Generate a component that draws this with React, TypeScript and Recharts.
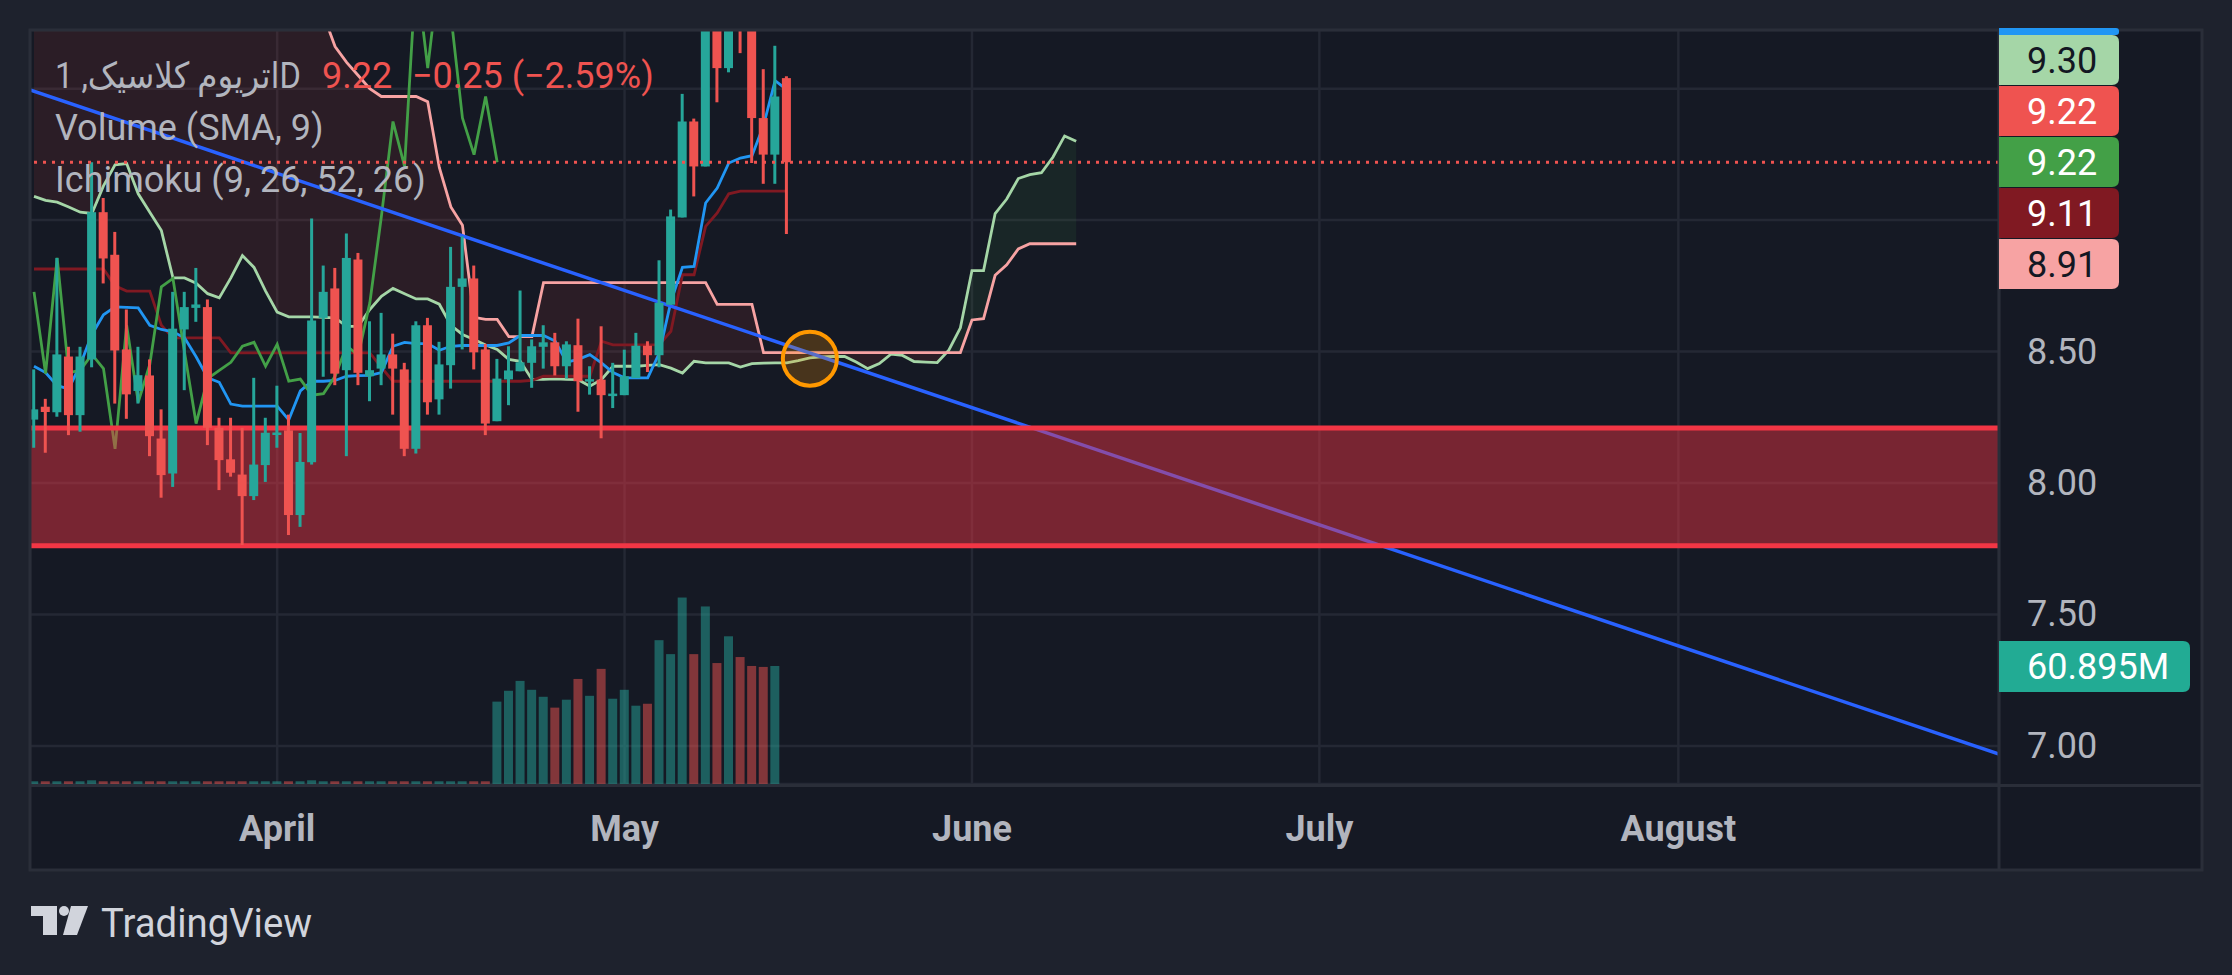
import React from 'react';
import {
  ComposedChart, Bar, Line, Area, XAxis, YAxis, CartesianGrid,
  ReferenceArea, ReferenceLine, ReferenceDot,
} from 'recharts';

const W = 2232;
const H = 975;
const FONT = 'Roboto, "DejaVu Sans", sans-serif';
const UP = '#26a69a';
const DOWN = '#ef5350';

// x is a session number, 0 = 1 March; first candle is session 10.
// the feed skips one day in May, so June starts at session 91
const firstDay = 10;
const dayDomain = [9.655, 179.69];
const priceDomain = [6.855, 9.723];
const monthTicks = [31, 61, 91, 121, 152];
const monthNames = ['April', 'May', 'June', 'July', 'August'];
const priceTicks = [7, 7.5, 8, 8.5, 9, 9.5];

const opens = [
  8.241, 8.29, 8.269, 8.481, 8.258, 8.47, 9.03, 8.868, 8.508, 8.35,
  8.409, 8.169, 8.036, 8.584, 8.666, 8.669, 8.21, 8.09, 8.032, 7.95,
  8.068, 8.188, 8.2, 7.878, 8.079, 8.628, 8.74, 8.429, 8.85, 8.406,
  8.435, 8.489, 8.432, 8.13, 8.6, 8.318, 8.448, 8.746, 8.778, 8.508,
  8.235, 8.394, 8.425, 8.457, 8.518, 8.535, 8.444, 8.524, 8.391, 8.393,
  8.335, 8.334, 8.399, 8.522, 8.486, 8.678, 9.01, 9.375, 9.204, 9.9,
  9.578, 9.85, 9.85, 9.388, 9.249, 9.54,
];
const highs = [
  8.432, 8.32, 8.856, 8.518, 8.518, 9.22, 9.084, 8.955, 8.66, 8.518,
  8.47, 8.28, 8.727, 8.727, 8.818, 8.698, 8.248, 8.248, 8.21, 8.4,
  8.248, 8.37, 8.26, 8.19, 9.006, 8.827, 8.818, 8.949, 8.875, 8.615,
  8.647, 8.568, 8.457, 8.615, 8.628, 8.537, 8.898, 8.938, 8.827, 8.529,
  8.472, 8.52, 8.732, 8.546, 8.6, 8.571, 8.539, 8.625, 8.444, 8.596,
  8.457, 8.507, 8.571, 8.539, 8.847, 9.04, 9.48, 9.386, 10.05, 10.05,
  10.1, 9.9, 9.9, 9.574, 9.663, 9.547,
];
const lows = [
  8.134, 8.115, 8.252, 8.182, 8.195, 8.44, 8.759, 8.302, 8.244, 8.302,
  8.102, 7.944, 7.985, 8.353, 8.613, 8.144, 7.973, 8.024, 7.764, 7.935,
  8.004, 8.134, 7.802, 7.833, 8.07, 8.404, 8.372, 8.102, 8.372, 8.311,
  8.372, 8.26, 8.102, 8.112, 8.26, 8.26, 8.359, 8.508, 8.432, 8.182,
  8.235, 8.296, 8.425, 8.362, 8.435, 8.409, 8.397, 8.271, 8.336, 8.17,
  8.285, 8.334, 8.4, 8.422, 8.44, 8.678, 9.01, 9.09, 9.204, 9.448,
  9.562, 9.635, 9.217, 9.138, 9.138, 8.947,
];
const closes = [
  8.28, 8.27, 8.489, 8.258, 8.481, 9.03, 8.854, 8.504, 8.337, 8.41,
  8.178, 8.03, 8.587, 8.669, 8.679, 8.21, 8.087, 8.039, 7.95, 8.07,
  8.191, 8.192, 7.878, 8.08, 8.618, 8.727, 8.416, 8.856, 8.419, 8.429,
  8.489, 8.435, 8.13, 8.6, 8.307, 8.451, 8.746, 8.778, 8.497, 8.226,
  8.397, 8.428, 8.459, 8.52, 8.535, 8.444, 8.527, 8.387, 8.395, 8.334,
  8.34, 8.406, 8.522, 8.486, 8.685, 9.014, 9.375, 9.204, 9.95, 9.578,
  9.95, 9.78, 9.388, 9.249, 9.47, 9.22,
];
// millions
const volumes = [
  1.4, 1.4, 1.4, 1.4, 1.4, 1.9, 1.4, 1.4, 1.4, 1.4,
  1.4, 1.4, 1.4, 1.4, 1.4, 1.4, 1.4, 1.4, 1.4, 1.4,
  1.4, 1.4, 1.4, 1.4, 1.9, 1.4, 1.4, 1.4, 1.4, 1.4,
  1.4, 1.4, 1.4, 1.4, 1.4, 1.4, 1.4, 1.4, 1.4, 1.4,
  42.5, 48.1, 53.2, 48.6, 45.0, 39.4, 43.5, 54.2, 45.5, 59.4,
  44.0, 48.6, 40.4, 41.4, 74.2, 67.0, 96.2, 67.0, 91.6, 62.4,
  76.2, 65.5, 60.9, 60.4, 60.895,
];
const tenkan = [
  8.444, 8.42, 8.37, 8.358, 8.45, 8.565, 8.64, 8.67, 8.668, 8.666,
  8.6, 8.584, 8.575, 8.552, 8.48, 8.4, 8.383, 8.3, 8.292, 8.292,
  8.292, 8.292, 8.24, 8.35, 8.387, 8.387, 8.39, 8.406, 8.408, 8.409,
  8.42, 8.52, 8.535, 8.53, 8.53, 8.505, 8.52, 8.523, 8.523, 8.523,
  8.523, 8.533, 8.561, 8.561, 8.561, 8.54, 8.46, 8.47, 8.488, 8.457,
  8.42, 8.4, 8.4, 8.4, 8.494, 8.69, 8.82, 8.824, 9.065, 9.122,
  9.217, 9.236, 9.245, 9.36, 9.53, 9.496,
];
const kijun = [
  8.814, 8.814, 8.814, 8.814, 8.814, 8.814, 8.814, 8.75, 8.73, 8.73,
  8.73, 8.6, 8.552, 8.552, 8.552, 8.552, 8.552, 8.495, 8.495, 8.495,
  8.495, 8.495, 8.495, 8.495, 8.495, 8.495, 8.495, 8.495, 8.495, 8.495,
  8.44, 8.387, 8.387, 8.387, 8.387, 8.387, 8.387, 8.387, 8.387, 8.387,
  8.387, 8.387, 8.387, 8.39, 8.406, 8.406, 8.406, 8.406, 8.406, 8.539,
  8.525, 8.525, 8.525, 8.525, 8.526, 8.577, 8.792, 8.792, 8.976, 9.027,
  9.1, 9.11, 9.11, 9.11, 9.11, 9.11,
];
const chikou = [
  8.727, 8.416, 8.856, 8.419, 8.429, 8.489, 8.435, 8.13, 8.6, 8.307,
  8.451, 8.746, 8.778, 8.497, 8.226, 8.397, 8.428, 8.459, 8.52, 8.535,
  8.444, 8.527, 8.387, 8.395, 8.334, 8.34, 8.406, 8.522, 8.486, 8.685,
  9.014, 9.375, 9.204, 9.95, 9.578, 9.95, 9.78, 9.388, 9.249, 9.47,
  9.22,
];
const spanA = [
  9.09, 9.075, 9.068, 9.05, 9.03, 9.025, 9.13, 9.21, 9.215, 9.1,
  9.03, 8.96, 8.78, 8.78, 8.76, 8.72, 8.704, 8.78, 8.865, 8.82,
  8.73, 8.65, 8.632, 8.632, 8.632, 8.63, 8.628, 8.596, 8.596, 8.66,
  8.71, 8.74, 8.72, 8.7, 8.7, 8.68, 8.6, 8.565, 8.546, 8.525,
  8.508, 8.47, 8.463, 8.394, 8.394, 8.396, 8.394, 8.393, 8.368, 8.393,
  8.444, 8.444, 8.444, 8.447, 8.45, 8.437, 8.418, 8.463, 8.457, 8.457,
  8.457, 8.441, 8.454, 8.456, 8.457, 8.457, 8.465, 8.476, 8.48, 8.481,
  8.481, 8.46, 8.435, 8.454, 8.49, 8.485, 8.462, 8.46, 8.458, 8.505,
  8.59, 8.808, 8.808, 9.025, 9.08, 9.158, 9.173, 9.18, 9.24, 9.32,
  9.3,
];
const spanB = [
  10.3, 10.3, 10.3, 10.3, 10.3, 10.3, 10.3, 10.3, 10.3, 10.3,
  10.3, 10.3, 10.3, 10.3, 10.3, 10.3, 10.3, 10.3, 10.3, 10.3,
  10.3, 10.3, 10.3, 10.1, 9.95, 9.78, 9.66, 9.6, 9.55, 9.5,
  9.47, 9.47, 9.47, 9.47, 9.45, 9.2, 9.05, 8.98, 8.63, 8.622,
  8.622, 8.557, 8.557, 8.557, 8.762, 8.762, 8.762, 8.762, 8.762, 8.762,
  8.762, 8.762, 8.762, 8.762, 8.762, 8.762, 8.762, 8.762, 8.762, 8.679,
  8.679, 8.679, 8.679, 8.496, 8.496, 8.496, 8.496, 8.496, 8.496, 8.496,
  8.496, 8.496, 8.496, 8.496, 8.496, 8.496, 8.496, 8.496, 8.496, 8.496,
  8.496, 8.62, 8.625, 8.79, 8.83, 8.89, 8.91, 8.91, 8.91, 8.91,
  8.91,
];

// drawings
const trendDays = [9.655, 179.69];
const trendPrices = [9.495, 6.969];
const zoneLow = 7.761;
const zoneHigh = 8.209;
const circleDay = 77;
const circlePrice = 8.473;

const rows = spanA.map((a, i) => {
  const b = spanB[i];
  const has = i < closes.length;
  return {
    d: firstDay + i,
    range: has ? [lows[i], highs[i]] : null,
    o: has ? opens[i] : null,
    h: has ? highs[i] : null,
    l: has ? lows[i] : null,
    c: has ? closes[i] : null,
    up: has ? closes[i] >= opens[i] : true,
    vol: i < volumes.length ? volumes[i] : null,
    tenkan: i < tenkan.length ? tenkan[i] : null,
    kijun: i < kijun.length ? kijun[i] : null,
    chikou: i < chikou.length ? chikou[i] : null,
    spanA: a,
    spanB: b,
    redCloud: [a, Math.max(a, b)],
    greenCloud: [b, Math.max(a, b)],
  };
});

const trendRows = trendDays.map((d, i) => ({ d, t: trendPrices[i] }));

const Candle = (props: any) => {
  const { x, y, width, height, payload } = props;
  if (!payload || payload.o == null || !isFinite(y) || !isFinite(height)) return <g />;
  const { o, h, l, c } = payload;
  const col = c >= o ? UP : DOWN;
  const py = (v: number) => y + ((h - v) / (h - l)) * height;
  const cx = x + width / 2;
  const top = py(Math.max(o, c));
  const bot = py(Math.min(o, c));
  return (
    <g>
      <line x1={cx} x2={cx} y1={y} y2={y + height} stroke={col} strokeWidth={3} />
      <rect x={cx - 4.5} y={top} width={9} height={Math.max(bot - top, 2.5)} fill={col} />
    </g>
  );
};

const VolBar = (props: any) => {
  const { x, y, width, height, payload } = props;
  if (!payload || payload.vol == null || !isFinite(y) || !isFinite(height)) return <g />;
  const cx = x + width / 2;
  return (
    <rect x={cx - 4.5} y={y} width={9} height={height}
      fill={payload.up ? UP : DOWN} fillOpacity={0.5} />
  );
};

const TimeTick = (p: any) => {
  const k = monthTicks.indexOf(p.payload.value);
  return (
    <text x={p.x} y={829} textAnchor="middle" dominantBaseline="central"
      fill="#b2b5be" fontSize={36} fontWeight={700} fontFamily={FONT}>
      {monthNames[k]}
    </text>
  );
};

const PriceTick = (p: any) => {
  if (p.payload.value >= 9) return <g />;
  return (
    <text x={2027} y={p.y} dominantBaseline="central"
      fill="#b2b5be" fontSize={36} fontFamily={FONT}>
      {p.payload.value.toFixed(2)}
    </text>
  );
};

const labelPath = (x: number, y: number, w: number, h: number, r: number) =>
  `M${x},${y} H${x + w - r} Q${x + w},${y} ${x + w},${y + r} V${y + h - r} Q${x + w},${y + h} ${x + w - r},${y + h} H${x} Z`;

const axisLabels = [
  { text: spanA[spanA.length - 1].toFixed(2), bg: '#a5d6a7', fg: '#131722' },
  { text: closes[closes.length - 1].toFixed(2), bg: '#ef5350', fg: '#ffffff' },
  { text: chikou[chikou.length - 1].toFixed(2), bg: '#43a047', fg: '#ffffff' },
  { text: kijun[kijun.length - 1].toFixed(2), bg: '#801922', fg: '#ffffff' },
  { text: spanB[spanB.length - 1].toFixed(2), bg: '#f7a3a3', fg: '#131722' },
];

export default function App() {
  return (
    <div style={{ position: 'absolute', left: 0, top: 0, width: W, height: H, background: '#1e222d', overflow: 'hidden' }}>
      <div style={{ position: 'absolute', left: 30, top: 30, width: 2172, height: 840, background: '#151924' }} />
      <div style={{ position: 'absolute', left: 0, top: 0 }}>
        <ComposedChart width={W} height={H} data={rows}
          margin={{ top: 30, right: 30, bottom: 105, left: 30 }}>
          <CartesianGrid stroke="#242834" strokeWidth={2.5} />
          <XAxis dataKey="d" type="number" domain={dayDomain} allowDataOverflow
            ticks={monthTicks} interval={0} height={86} tickLine={false} axisLine={false}
            tick={TimeTick} />
          <XAxis xAxisId="v" dataKey="d" type="number" domain={dayDomain} allowDataOverflow hide />
          <XAxis xAxisId="t" dataKey="d" type="number" domain={dayDomain} allowDataOverflow hide />
          <YAxis orientation="right" type="number" domain={priceDomain} allowDataOverflow
            ticks={priceTicks} interval={0} width={203} tickLine={false} axisLine={false}
            tick={PriceTick} />
          <YAxis yAxisId="vol" type="number" domain={[0, 389]} allowDataOverflow hide />

          <Area dataKey="redCloud" type="linear" stroke="none" fill="#f44336" fillOpacity={0.1}
            isAnimationActive={false} dot={false} activeDot={false} zIndex={100} />
          <Area dataKey="greenCloud" type="linear" stroke="none" fill="#43a047" fillOpacity={0.1}
            isAnimationActive={false} dot={false} activeDot={false} zIndex={100} />

          <Bar xAxisId="v" yAxisId="vol" dataKey="vol" barSize={9} shape={VolBar}
            isAnimationActive={false} zIndex={150} />

          <Line dataKey="spanA" stroke="#a5d6a7" strokeWidth={2.8} dot={false} activeDot={false}
            isAnimationActive={false} zIndex={200} />
          <Line dataKey="spanB" stroke="#f7a3a3" strokeWidth={2.8} dot={false} activeDot={false}
            isAnimationActive={false} zIndex={200} />
          <Line dataKey="kijun" stroke="#801922" strokeWidth={2.8} dot={false} activeDot={false}
            isAnimationActive={false} zIndex={200} />
          <Line dataKey="tenkan" stroke="#2196f3" strokeWidth={2.8} dot={false} activeDot={false}
            isAnimationActive={false} zIndex={200} />
          <Line dataKey="chikou" stroke="#43a047" strokeWidth={2.8} dot={false} activeDot={false}
            isAnimationActive={false} zIndex={200} />

          <Line xAxisId="t" data={trendRows} dataKey="t" stroke="#2962ff" strokeWidth={3.5} dot={false}
            activeDot={false} isAnimationActive={false} zIndex={250} />

          <ReferenceArea y1={zoneLow} y2={zoneHigh} fill="#f23645" fillOpacity={0.45}
            stroke="none" zIndex={300} />
          <ReferenceLine y={zoneHigh} stroke="#f23645" strokeWidth={5} zIndex={310} />
          <ReferenceLine y={zoneLow} stroke="#f23645" strokeWidth={5} zIndex={310} />

          <Bar dataKey="range" barSize={9} shape={Candle} isAnimationActive={false} zIndex={400} />

          <ReferenceLine y={closes[closes.length - 1]} stroke={DOWN} strokeWidth={3}
            strokeDasharray="3 6" zIndex={450} />
          <ReferenceDot x={circleDay} y={circlePrice} r={27} fill="#ff9800" fillOpacity={0.22}
            stroke="#ff9800" strokeWidth={4} zIndex={500} />
        </ComposedChart>
      </div>

      <svg width={W} height={H} style={{ position: 'absolute', left: 0, top: 0, pointerEvents: 'none' }}
        fontFamily={FONT}>
        <rect x={30} y={30} width={2172} height={840} fill="none" stroke="#2a2e39" strokeWidth={3} />
        <line x1={1999} y1={30} x2={1999} y2={870} stroke="#2a2e39" strokeWidth={3} />
        <line x1={30} y1={785.5} x2={2202} y2={785.5} stroke="#2a2e39" strokeWidth={3} />

        <text x={55} y={88} fontSize={36} fill="#b2b5be" textLength={246}
          lengthAdjust="spacingAndGlyphs">اتریوم کلاسیک, 1D</text>
        <text x={322} y={88} fontSize={36} fill="#ef5350">{closes[closes.length - 1].toFixed(2)}</text>
        <text x={412} y={88} fontSize={36} fill="#ef5350">−0.25 (−2.59%)</text>
        <text x={55} y={140} fontSize={36} fill="#b2b5be">Volume (SMA, 9)</text>
        <text x={55} y={192} fontSize={36} fill="#b2b5be">Ichimoku (9, 26, 52, 26)</text>

        <path d={labelPath(1999, 28, 120, 7, 3)} fill="#2196f3" />
        {axisLabels.map((lb, k) => (
          <g key={k}>
            <path d={labelPath(1999, 35 + k * 51, 120, 50, 7)} fill={lb.bg} />
            <text x={2027} y={61 + k * 51} dominantBaseline="central" fontSize={36} fill={lb.fg}>{lb.text}</text>
          </g>
        ))}
        <path d={labelPath(1999, 641, 191, 51, 7)} fill="#22ab94" />
        <text x={2027} y={667} dominantBaseline="central" fontSize={36} fill="#ffffff">
          {volumes[volumes.length - 1].toFixed(3)}M
        </text>

        <path d="M31,906 H57 V935 H43 V916 H31 Z" fill="#d1d4dc" />
        <circle cx={64} cy={911} r={5} fill="#d1d4dc" />
        <path d="M71,906 H88 L77,935 H63 Z" fill="#d1d4dc" />
        <text x={101} y={937} fontSize={40} fill="#d1d4dc" textLength={211}
          lengthAdjust="spacingAndGlyphs">TradingView</text>
      </svg>
    </div>
  );
}
